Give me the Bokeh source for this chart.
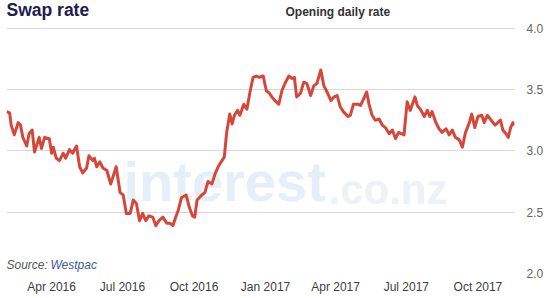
import pandas as pd
from bokeh.plotting import figure
from bokeh.models import (Range1d, Label, MonthsTicker, DatetimeTickFormatter,
                          FixedTicker, PrintfTickFormatter, ColumnDataSource)
from bokeh.embed import file_html
from bokeh.resources import INLINE

dates = [
    "2016-02-03", "2016-02-07", "2016-02-09", "2016-02-13", "2016-02-18", "2016-02-21", "2016-02-24", "2016-02-29", "2016-03-03", "2016-03-07",
    "2016-03-10", "2016-03-16", "2016-03-19", "2016-03-23", "2016-03-29", "2016-04-01", "2016-04-03", "2016-04-07", "2016-04-11", "2016-04-16",
    "2016-04-19", "2016-04-24", "2016-04-28", "2016-05-03", "2016-05-07", "2016-05-11", "2016-05-16", "2016-05-19", "2016-05-24", "2016-05-26",
    "2016-05-29", "2016-06-02", "2016-06-06", "2016-06-11", "2016-06-16", "2016-06-23", "2016-06-28", "2016-07-02", "2016-07-06", "2016-07-11",
    "2016-07-15", "2016-07-19", "2016-07-23", "2016-07-27", "2016-07-31", "2016-08-04", "2016-08-09", "2016-08-13", "2016-08-17", "2016-08-22",
    "2016-08-27", "2016-08-31", "2016-09-04", "2016-09-07", "2016-09-11", "2016-09-15", "2016-09-21", "2016-09-25", "2016-09-29", "2016-10-02",
    "2016-10-05", "2016-10-11", "2016-10-15", "2016-10-19", "2016-10-24", "2016-10-28", "2016-11-01", "2016-11-06", "2016-11-09", "2016-11-12",
    "2016-11-16", "2016-11-19", "2016-11-22", "2016-11-26", "2016-11-29", "2016-12-04", "2016-12-08", "2016-12-12", "2016-12-16", "2016-12-20",
    "2016-12-24", "2016-12-29", "2017-01-02", "2017-01-06", "2017-01-09", "2017-01-13", "2017-01-18", "2017-01-22", "2017-01-26", "2017-01-31",
    "2017-02-04", "2017-02-07", "2017-02-10", "2017-02-15", "2017-02-19", "2017-02-23", "2017-02-28", "2017-03-04", "2017-03-08", "2017-03-13",
    "2017-03-17", "2017-03-21", "2017-03-26", "2017-03-30", "2017-04-03", "2017-04-07", "2017-04-11", "2017-04-17", "2017-04-20", "2017-04-24",
    "2017-04-30", "2017-05-03", "2017-05-06", "2017-05-11", "2017-05-14", "2017-05-18", "2017-05-22", "2017-05-27", "2017-05-31", "2017-06-04",
    "2017-06-09", "2017-06-13", "2017-06-17", "2017-06-21", "2017-06-28", "2017-07-02", "2017-07-06", "2017-07-12", "2017-07-15", "2017-07-19",
    "2017-07-24", "2017-07-28", "2017-07-31", "2017-08-03", "2017-08-08", "2017-08-12", "2017-08-16", "2017-08-21", "2017-08-25", "2017-08-29",
    "2017-09-02", "2017-09-07", "2017-09-11", "2017-09-15", "2017-09-20", "2017-09-23", "2017-09-27", "2017-10-01", "2017-10-06", "2017-10-09",
    "2017-10-13", "2017-10-18", "2017-10-23", "2017-10-30", "2017-11-02", "2017-11-06", "2017-11-09", "2017-11-12", "2017-11-15", "2017-11-17",
]

swap_rate = [
    3.32, 3.31, 3.21, 3.13, 3.23, 3.21, 3.11, 3.04, 3.14, 3.17,
    2.99, 3.11, 3.02, 3.11, 3.10, 2.98, 3.03, 2.94, 2.92, 2.98,
    2.94, 3.01, 2.98, 3.04, 2.87, 2.82, 2.86, 2.96, 2.92, 2.94,
    2.87, 2.91, 2.86, 2.84, 2.73, 2.87, 2.66, 2.64, 2.49, 2.49,
    2.60, 2.57, 2.43, 2.49, 2.43, 2.47, 2.46, 2.39, 2.43, 2.46,
    2.41, 2.41, 2.39, 2.45, 2.52, 2.62, 2.64, 2.54, 2.47, 2.46,
    2.60, 2.64, 2.66, 2.75, 2.73, 2.81, 2.87, 2.92, 2.95, 3.15,
    3.30, 3.22, 3.29, 3.33, 3.29, 3.38, 3.34, 3.48, 3.60, 3.61,
    3.60, 3.61, 3.49, 3.47, 3.44, 3.41, 3.38, 3.49, 3.55, 3.61,
    3.59, 3.60, 3.44, 3.47, 3.56, 3.55, 3.45, 3.53, 3.55, 3.66,
    3.53, 3.48, 3.41, 3.44, 3.45, 3.36, 3.32, 3.28, 3.29, 3.38,
    3.38, 3.37, 3.41, 3.48, 3.38, 3.29, 3.25, 3.26, 3.21, 3.19,
    3.14, 3.17, 3.10, 3.15, 3.13, 3.40, 3.33, 3.44, 3.37, 3.34,
    3.28, 3.33, 3.28, 3.32, 3.23, 3.18, 3.15, 3.18, 3.13, 3.17,
    3.11, 3.09, 3.03, 3.15, 3.23, 3.30, 3.19, 3.28, 3.29, 3.23,
    3.29, 3.25, 3.21, 3.25, 3.17, 3.14, 3.11, 3.19, 3.23, 3.21,
]

y_ticks = [2.0, 2.5, 3.0, 3.5, 4.0]
title_text = "Swap rate"
subtitle_text = "Opening daily rate"
source_prefix = "Source: "
source_name = "Westpac"

FONT = "Liberation Sans"

dt = pd.to_datetime(dates)
src = ColumnDataSource(dict(date=dt, rate=swap_rate))

# the frame reaches the top edge so the heading labels sit inside it;
# the y range above 4.0 is just headroom for them (no tick or gridline there)
p = figure(width=551, height=298, x_axis_type="datetime",
           y_axis_location="right", output_backend="svg",
           toolbar_location=None,
           x_range=Range1d(dt.min(), dt.max()),
           y_range=Range1d(y_ticks[0], 4.226),
           min_border_left=6, min_border_right=37,
           min_border_top=0, min_border_bottom=25)
p.outline_line_color = None
p.background_fill_color = "white"
p.border_fill_color = "white"

p.xgrid.grid_line_color = None
p.ygrid.grid_line_color = "#d8d8d8"
p.ygrid.grid_line_width = 1

# axes
p.xaxis.ticker = MonthsTicker(months=[0, 3, 6, 9])
p.xaxis.formatter = DatetimeTickFormatter(days="%b %Y", months="%b %Y", years="%b %Y")
p.yaxis.ticker = FixedTicker(ticks=y_ticks)
p.yaxis.formatter = PrintfTickFormatter(format="%.1f")
for ax in (p.xaxis, p.yaxis):
    ax.axis_line_color = None
    ax.major_tick_line_color = None
    ax.minor_tick_line_color = None
    ax.major_tick_out = 0
    ax.major_tick_in = 0
    ax.minor_tick_out = 0
    ax.major_label_text_font = FONT
    ax.major_label_text_font_size = "12px"
p.xaxis.major_label_text_color = "#3d3d3d"
p.yaxis.major_label_text_color = "#666666"
p.xaxis.major_label_standoff = 6
p.yaxis.major_label_standoff = 12

# watermark
p.add_layout(Label(x=117, y=61, x_units="screen", y_units="screen", text="interest",
                   text_font=FONT, text_font_size="56px", text_font_style="bold",
                   text_color="#e6eef9", level="underlay"))
p.add_layout(Label(x=322, y=61, x_units="screen", y_units="screen", text=".co.nz",
                   text_font=FONT, text_font_size="42px", text_font_style="bold",
                   text_color="#eef1f6", level="underlay"))

p.line("date", "rate", source=src, line_color="#d4473a", line_width=3,
       line_join="round")

# titles and source
p.add_layout(Label(x=0, y=254, x_units="screen", y_units="screen", text=title_text,
                   text_font=FONT, text_font_size="17.5px", text_font_style="bold",
                   text_color="#1c2050"))
p.add_layout(Label(x=279, y=255, x_units="screen", y_units="screen", text=subtitle_text,
                   text_font=FONT, text_font_size="12px", text_font_style="bold",
                   text_color="#333333"))
p.add_layout(Label(x=0, y=2, x_units="screen", y_units="screen", text=source_prefix,
                   text_font=FONT, text_font_size="12px", text_font_style="italic",
                   text_color="#555555"))
p.add_layout(Label(x=44, y=2, x_units="screen", y_units="screen", text=source_name,
                   text_font=FONT, text_font_size="12px", text_font_style="italic",
                   text_color="#3b5b9c"))

open("out.html", "w").write(file_html(p, INLINE))
